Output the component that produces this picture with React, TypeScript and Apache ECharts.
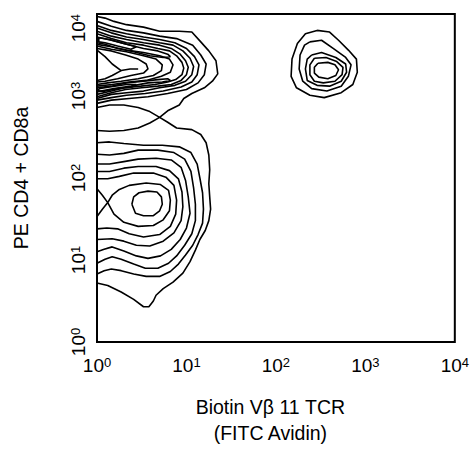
import React, { useEffect, useRef } from "react";
import * as echarts from "echarts";

// Axis decades (log10 of fluorescence intensity)
const tickExponents = [0, 1, 2, 3, 4];
const xTitle = "Biotin V\u03b2 11 TCR\n(FITC Avidin)";
const yTitle = "PE CD4 + CD8a";

// Contour lines, points as [log10 X, log10 Y]
// Lower population (CD4/CD8 low-mid, Vb11 negative)
const lowerInner = [[0.39,1.68],[0.41,1.77],[0.47,1.82],[0.57,1.84],[0.67,1.83],[0.72,1.77],[0.73,1.68],[0.70,1.60],[0.63,1.54],[0.52,1.54],[0.43,1.57],[0.39,1.68]];
const lowerL6 = [[0,1.87],[0.06,1.79],[0.12,1.70],[0.17,1.79],[0.25,1.86],[0.36,1.91],[0.55,1.94],[0.71,1.92],[0.80,1.85],[0.82,1.73],[0.81,1.60],[0.74,1.49],[0.63,1.42],[0.46,1.41],[0.30,1.46],[0.19,1.56],[0.12,1.70],[0.06,1.62],[0,1.53]];
const lowerL5 = [[0,1.99],[0.12,1.99],[0.25,2.02],[0.41,2.06],[0.63,2.06],[0.77,2.01],[0.86,1.91],[0.89,1.73],[0.88,1.56],[0.82,1.41],[0.70,1.31],[0.52,1.28],[0.36,1.32],[0.23,1.38],[0.11,1.39],[0,1.38]];
const lowerL4 = [[0,2.08],[0.14,2.08],[0.30,2.12],[0.46,2.14],[0.66,2.14],[0.81,2.09],[0.91,1.99],[0.95,1.83],[0.96,1.65],[0.94,1.48],[0.86,1.33],[0.74,1.23],[0.59,1.17],[0.44,1.18],[0.30,1.23],[0.17,1.26],[0,1.25]];
const lowerL3 = [[0,2.17],[0.14,2.17],[0.30,2.20],[0.46,2.23],[0.66,2.24],[0.83,2.22],[0.94,2.13],[0.99,1.97],[1.02,1.77],[1.04,1.57],[1.00,1.39],[0.93,1.25],[0.83,1.13],[0.71,1.05],[0.57,1.02],[0.44,1.05],[0.30,1.11],[0.17,1.16],[0.08,1.13],[0,1.10]];
const lowerL2 = [[0,2.29],[0.14,2.28],[0.30,2.30],[0.46,2.34],[0.68,2.34],[0.86,2.31],[0.98,2.23],[1.05,2.08],[1.08,1.88],[1.10,1.68],[1.10,1.48],[1.06,1.32],[0.98,1.18],[0.89,1.05],[0.80,0.96],[0.68,0.90],[0.54,0.90],[0.41,0.95],[0.27,1.01],[0.17,1.04],[0.09,1.01],[0,0.96]];
const lowerL1 = [[0,2.43],[0.14,2.44],[0.30,2.42],[0.52,2.40],[0.73,2.40],[0.92,2.38],[1.05,2.31],[1.12,2.17],[1.15,2.00],[1.18,1.82],[1.19,1.62],[1.18,1.45],[1.13,1.31],[1.07,1.18],[0.99,1.06],[0.91,0.95],[0.82,0.86],[0.70,0.80],[0.55,0.80],[0.41,0.83],[0.27,0.87],[0.16,0.89],[0.08,0.87],[0,0.83]];
// Outermost level: lower and upper populations joined through the saddle
const outerSaddle = [[0,0.72],[0.12,0.69],[0.27,0.61],[0.41,0.52],[0.52,0.43],[0.58,0.43],[0.63,0.50],[0.66,0.57],[0.74,0.65],[0.85,0.73],[0.96,0.84],[1.04,0.98],[1.10,1.12],[1.15,1.25],[1.21,1.36],[1.25,1.48],[1.27,1.62],[1.26,1.77],[1.25,1.93],[1.26,2.10],[1.25,2.28],[1.22,2.43],[1.16,2.53],[1.06,2.59],[0.89,2.61],[0.79,2.68],[0.70,2.74],[0.79,2.82],[0.92,2.89],[0.97,2.97],[1.06,3.03],[1.20,3.10],[1.29,3.18],[1.35,3.27],[1.33,3.43],[1.25,3.55],[1.16,3.66],[1.06,3.78],[0.92,3.79],[0.70,3.79],[0.52,3.84],[0.33,3.87],[0.19,3.91],[0.09,3.95],[0,3.97]];
const saddleLeft = [[0,2.86],[0.14,2.89],[0.30,2.89],[0.46,2.86],[0.59,2.81],[0.70,2.74],[0.59,2.67],[0.46,2.61],[0.30,2.58],[0.14,2.57],[0,2.58]];

// Upper population (CD4/CD8 high, Vb11 negative)
const upperU1 = [[0,3.91],[0.16,3.85],[0.33,3.80],[0.52,3.77],[0.70,3.73],[0.89,3.70],[1.07,3.62],[1.16,3.50],[1.22,3.39],[1.20,3.26],[1.13,3.16],[1.00,3.08],[0.79,3.03],[0.57,2.99],[0.36,2.97],[0.16,2.95],[0,2.91]];
const upperU2 = [[0,3.86],[0.16,3.80],[0.33,3.76],[0.52,3.72],[0.70,3.69],[0.87,3.65],[1.00,3.58],[1.09,3.48],[1.14,3.38],[1.12,3.26],[1.06,3.17],[0.94,3.11],[0.74,3.06],[0.54,3.03],[0.33,3.01],[0.16,2.98],[0,2.95]];
const upperU3 = [[0,3.83],[0.16,3.77],[0.33,3.72],[0.52,3.69],[0.70,3.65],[0.85,3.62],[0.96,3.55],[1.04,3.46],[1.08,3.36],[1.06,3.26],[0.99,3.18],[0.87,3.13],[0.70,3.10],[0.52,3.06],[0.33,3.04],[0.16,3.02],[0,2.97]];
const upperU4 = [[0,3.79],[0.16,3.73],[0.33,3.69],[0.52,3.65],[0.70,3.62],[0.83,3.58],[0.93,3.51],[0.99,3.43],[1.02,3.35],[1.00,3.26],[0.94,3.19],[0.83,3.14],[0.68,3.12],[0.50,3.10],[0.32,3.08],[0.16,3.04],[0,2.99]];
const upperU5 = [[0,3.76],[0.16,3.70],[0.33,3.65],[0.52,3.62],[0.68,3.58],[0.81,3.55],[0.89,3.49],[0.95,3.41],[0.97,3.34],[0.95,3.26],[0.88,3.20],[0.79,3.17],[0.65,3.14],[0.49,3.12],[0.31,3.10],[0.16,3.06],[0,3.02]];
const notchN2a = [[0,3.56],[0.09,3.48],[0.17,3.39],[0.27,3.31],[0.37,3.33],[0.46,3.33]];
const notchN2b = [[0.27,3.31],[0.17,3.25],[0.09,3.21],[0,3.19]];
const notchN3 = [[0,3.58],[0.16,3.55],[0.32,3.50],[0.46,3.45],[0.55,3.39],[0.57,3.33],[0.52,3.28],[0.38,3.25],[0.23,3.21],[0.09,3.18],[0,3.17]];
const notchN4 = [[0,3.61],[0.16,3.57],[0.33,3.54],[0.52,3.49],[0.66,3.45],[0.73,3.38],[0.72,3.31],[0.63,3.25],[0.46,3.21],[0.27,3.18],[0.12,3.16],[0,3.14]];
const notchN5 = [[0,3.63],[0.16,3.60],[0.33,3.56],[0.52,3.53],[0.70,3.49],[0.81,3.45],[0.85,3.38],[0.82,3.29],[0.72,3.24],[0.55,3.19],[0.36,3.17],[0.17,3.14],[0,3.12]];
const topBandT6 = [[0,3.72],[0.16,3.68],[0.33,3.63],[0.52,3.58],[0.68,3.55],[0.79,3.51],[0.82,3.48],[0.74,3.47],[0.59,3.49],[0.41,3.54],[0.23,3.58],[0.09,3.63],[0,3.65]];
const topBandT7 = [[0.02,3.71],[0.14,3.69],[0.30,3.64],[0.44,3.60],[0.38,3.57],[0.23,3.61],[0.09,3.65],[0.02,3.66],[0.02,3.71]];
const bottomBandB6 = [[0,3.10],[0.16,3.12],[0.33,3.16],[0.52,3.18],[0.68,3.20],[0.79,3.21],[0.82,3.19],[0.73,3.17],[0.57,3.16],[0.38,3.12],[0.19,3.09],[0,3.05]];
const bottomBandB7 = [[0.02,3.09],[0.14,3.11],[0.33,3.14],[0.44,3.14],[0.39,3.11],[0.23,3.09],[0.09,3.06],[0.02,3.06],[0.02,3.09]];

// Vb11-positive population (upper right)
const rightR0 = [[2.46,3.80],[2.60,3.78],[2.70,3.68],[2.81,3.56],[2.90,3.45],[2.91,3.29],[2.86,3.14],[2.73,3.04],[2.54,2.98],[2.38,3.01],[2.23,3.10],[2.17,3.24],[2.18,3.45],[2.24,3.64],[2.33,3.76],[2.46,3.80]];
const rightR1 = [[2.38,3.66],[2.51,3.68],[2.64,3.58],[2.78,3.47],[2.84,3.38],[2.81,3.24],[2.73,3.12],[2.57,3.06],[2.40,3.09],[2.30,3.18],[2.26,3.33],[2.27,3.50],[2.32,3.62],[2.38,3.66]];
const rightR2 = [[2.40,3.50],[2.51,3.53],[2.67,3.47],[2.78,3.39],[2.79,3.29],[2.73,3.18],[2.60,3.12],[2.46,3.13],[2.35,3.19],[2.33,3.33],[2.35,3.45],[2.40,3.50]];
const rightR3 = [[2.43,3.46],[2.56,3.47],[2.68,3.42],[2.75,3.35],[2.74,3.26],[2.66,3.18],[2.53,3.16],[2.43,3.18],[2.38,3.26],[2.38,3.38],[2.43,3.46]];
const rightR4 = [[2.47,3.40],[2.58,3.41],[2.66,3.38],[2.70,3.32],[2.67,3.25],[2.58,3.21],[2.48,3.23],[2.43,3.28],[2.43,3.35],[2.47,3.40]];

const contours = [
  outerSaddle, saddleLeft,
  lowerL1, lowerL2, lowerL3, lowerL4, lowerL5, lowerL6, lowerInner,
  upperU1, upperU2, upperU3, upperU4, upperU5,
  notchN2a, notchN2b, notchN3, notchN4, notchN5,
  topBandT6, topBandT7, bottomBandB6, bottomBandB7,
  rightR0, rightR1, rightR2, rightR3, rightR4,
];

const FONT = "'Liberation Sans', Arial, sans-serif";

const labelRich = {
  b: { fontSize: 19, fontFamily: FONT, color: "#000", lineHeight: 19, padding: [4, 0, 0, 0], verticalAlign: "bottom" },
  s: { fontSize: 13, fontFamily: FONT, color: "#000", lineHeight: 13, verticalAlign: "top" },
};

const fmt = (val: number) => {
  const e = Math.round(Math.log10(val));
  if (!tickExponents.includes(e)) return "";
  return `{b|10}{s|${e}}`;
};

export default function App() {
  const ref = useRef<HTMLDivElement>(null);
  useEffect(() => {
    document.body.style.margin = "0";
    if (!ref.current) return;
    const chart = echarts.init(ref.current, undefined, { renderer: "svg" });
    const minV = Math.pow(10, tickExponents[0]);
    const maxV = Math.pow(10, tickExponents[tickExponents.length - 1]);
    chart.setOption({
      animation: false,
      backgroundColor: "#fff",
      grid: { left: 97, top: 14, right: 4, bottom: 91, show: true, borderColor: "#000", borderWidth: 2, backgroundColor: "transparent" },
      xAxis: {
        type: "log", logBase: 10, min: minV, max: maxV, splitNumber: 4,
        axisLine: { show: false }, axisTick: { show: false }, splitLine: { show: false },
        axisLabel: { formatter: fmt, rich: labelRich, margin: 14, showMinLabel: true, showMaxLabel: true },
        name: xTitle, nameLocation: "middle", nameGap: 52,
        nameTextStyle: { fontSize: 19.5, fontFamily: FONT, color: "#000", lineHeight: 26, padding: [0, 11, 0, 0] },
      },
      yAxis: {
        type: "log", logBase: 10, min: minV, max: maxV, splitNumber: 4,
        axisLine: { show: false }, axisTick: { show: false }, splitLine: { show: false },
        axisLabel: { formatter: fmt, rich: labelRich, margin: 9, rotate: 90, showMinLabel: true, showMaxLabel: true, alignMaxLabel: "right" },
        name: yTitle, nameLocation: "middle", nameGap: 66,
        nameTextStyle: { fontSize: 19.5, fontFamily: FONT, color: "#000" },
      },
      series: contours.map((c, i) => ({
        type: "line",
        name: "c" + i,
        data: c.map(([u, v]) => [Math.pow(10, u), Math.pow(10, v)]),
        showSymbol: false,
        symbol: "none",
        silent: true,
        lineStyle: { color: "#000", width: 1.6 },
      })),
    });
    return () => chart.dispose();
  }, []);
  return <div ref={ref} style={{ width: 472, height: 451 }} />;
}
